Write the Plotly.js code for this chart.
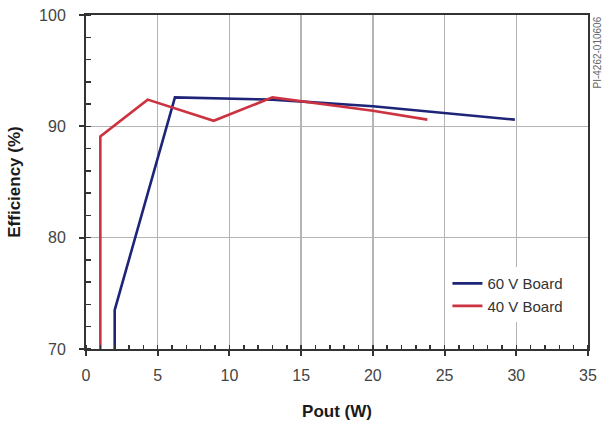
<!DOCTYPE html>
<html>
<head>
<meta charset="utf-8">
<script src="https://cdn.plot.ly/plotly-3.0.1.min.js"></script>
<style>html,body{margin:0;padding:0;background:#fff;}#chart{width:603px;height:423px;}</style>
</head>
<body>
<div id="chart"></div>
<script>
// Data
var board60X = [2.0, 2.0, 6.2, 13.0, 20.0, 29.9];
var board60Y = [70.0, 73.5, 92.6, 92.4, 91.8, 90.6];
var board40X = [1.0, 1.0, 4.3, 8.9, 13.0, 20.0, 23.8];
var board40Y = [70.0, 89.1, 92.4, 90.5, 92.6, 91.4, 90.6];
var seriesNames = ["60 V Board", "40 V Board"];
var xTickVals = [0, 5, 10, 15, 20, 25, 30, 35];
var yTickVals = [70, 80, 90, 100];
var figureId = "PI-4262-010606";

var traces = [
  {x: board60X, y: board60Y, name: seriesNames[0], mode: "lines", type: "scatter",
   line: {color: "#1e2478", width: 2.6}},
  {x: board40X, y: board40Y, name: seriesNames[1], mode: "lines", type: "scatter",
   line: {color: "#cc3340", width: 2.6}}
];

var fontFam = "Liberation Sans, Arial, sans-serif";
var layout = {
  width: 603, height: 423,
  margin: {l: 86, r: 15, t: 15, b: 74},
  paper_bgcolor: "#ffffff", plot_bgcolor: "#ffffff",
  font: {family: fontFam, size: 16, color: "#444"},
  showlegend: true,
  legend: {x: 0.72, y: 0.245, xanchor: "left", yanchor: "top",
    bgcolor: "#ffffff", font: {family: fontFam, size: 15, color: "#333"},
    tracegroupgap: 0, itemwidth: 30},
  xaxis: {
    range: [0, 35], tickvals: xTickVals, ticktext: xTickVals.map(String),
    showgrid: true, gridcolor: "#b4b4b4", gridwidth: 1.5,
    showline: true, linecolor: "#333", linewidth: 2, mirror: true,
    ticks: "outside", ticklen: 5, tickwidth: 2, tickcolor: "#333",
    ticklabelstandoff: 6,
    minor: {dtick: 1, ticks: "inside", ticklen: 4, tickwidth: 1.5, tickcolor: "#333", showgrid: false},
    zeroline: false, fixedrange: true, automargin: false,
    tickfont: {family: fontFam, size: 16, color: "#444"},
    title: {text: "<b>Pout (W)</b>", font: {family: fontFam, size: 17, color: "#1a1a1a"}, standoff: 22}
  },
  yaxis: {
    range: [70, 100], tickvals: yTickVals, ticktext: yTickVals.map(String),
    showgrid: true, gridcolor: "#b4b4b4", gridwidth: 1.5,
    showline: true, linecolor: "#333", linewidth: 2, mirror: true,
    ticks: "outside", ticklen: 5, tickwidth: 2, tickcolor: "#333",
    ticklabelstandoff: 10,
    minor: {dtick: 2, ticks: "inside", ticklen: 5, tickwidth: 1.5, tickcolor: "#333", showgrid: false},
    zeroline: false, fixedrange: true, automargin: false,
    tickfont: {family: fontFam, size: 16, color: "#444"},
    title: {text: "<b>Efficiency (%)</b>", font: {family: fontFam, size: 17, color: "#1a1a1a"}, standoff: 14}
  },
  annotations: [
    {text: figureId, xref: "paper", yref: "paper", x: 1.0, y: 1.0, xanchor: "left", yanchor: "top",
     xshift: 1, textangle: -90, showarrow: false, font: {family: fontFam, size: 10, color: "#666"}}
  ]
};

Plotly.newPlot("chart", traces, layout, {staticPlot: true, displayModeBar: false});
</script>
</body>
</html>
